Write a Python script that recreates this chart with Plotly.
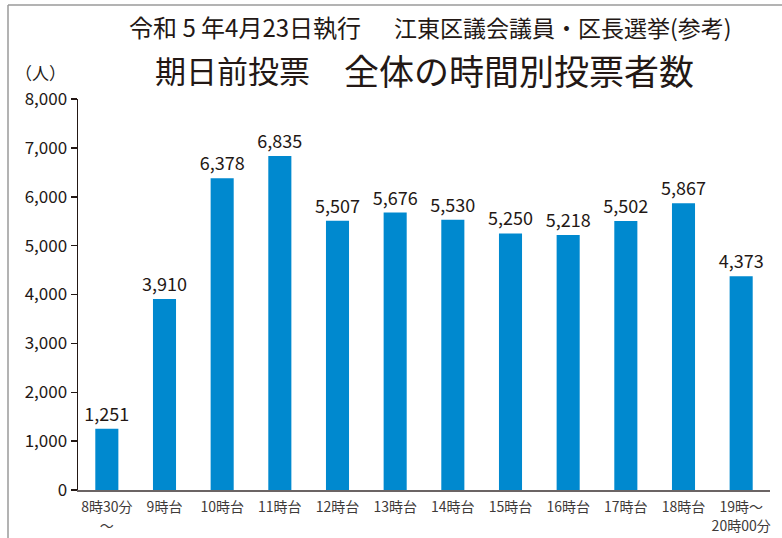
import plotly.graph_objects as go

categories = ["8時30分<br>～", "9時台", "10時台", "11時台", "12時台", "13時台",
              "14時台", "15時台", "16時台", "17時台", "18時台", "19時～<br>20時00分"]
values = [1251, 3910, 6378, 6835, 5507, 5676, 5530, 5250, 5218, 5502, 5867, 4373]
y_ticks = [0, 1000, 2000, 3000, 4000, 5000, 6000, 7000, 8000]
y_ticklabels = [f"{v:,}" for v in y_ticks]
title_line1a = "令和 5 年4月23日執行"
title_line1b = "江東区議会議員・区長選挙(参考)"
title_line2a = "期日前投票"
title_line2b = "全体の時間別投票者数"
unit_label = "（人）"

W, H = 782, 538
L, R, T, B = 78, 12, 99, 48
PW, PH = W - L - R, H - T - B
FONT = "Noto Sans CJK JP"
TXT = "#231815"


def px(x):
    return (x - L) / PW


def py(y):
    return (H - B - y) / PH


fig = go.Figure(go.Bar(
    x=categories, y=values,
    marker=dict(color="#0089CF", line=dict(width=0)),
    text=[f"{v:,}" for v in values], textposition="outside",
    textfont=dict(family=FONT, size=18, color=TXT),
    constraintext="none",
    cliponaxis=False, width=0.4,
))

fig.update_layout(
    width=W, height=H,
    margin=dict(l=L, r=R, t=T, b=B, autoexpand=False),
    paper_bgcolor="white", plot_bgcolor="white",
    showlegend=False,
    font=dict(family=FONT, color=TXT),
    xaxis=dict(showline=True, linecolor="#6b6464", linewidth=1.5, ticks="",
               tickfont=dict(family=FONT, size=14, color="#3e3a39"),
               ticklabelstandoff=4,
               showgrid=False, zeroline=False, automargin=False),
    yaxis=dict(range=[0, 8000], tickvals=y_ticks, ticktext=y_ticklabels,
               showline=True, linecolor="#231815", linewidth=1.5,
               ticks="outside", ticklen=6, tickcolor="#231815", tickwidth=1.5,
               tickfont=dict(family=FONT, size=17, color=TXT),
               showgrid=False, zeroline=False, automargin=False),
    annotations=[
        dict(text=title_line1a, x=px(245), y=py(27), xref="paper", yref="paper",
             xanchor="center", yanchor="middle", showarrow=False,
             font=dict(family=FONT, size=24, color=TXT)),
        dict(text=title_line1b, x=px(734), y=py(27), xref="paper", yref="paper",
             xanchor="right", yanchor="middle", showarrow=False,
             font=dict(family=FONT, size=23, color=TXT)),
        dict(text=title_line2a, x=px(153), y=py(70), xref="paper", yref="paper",
             xanchor="left", yanchor="middle", showarrow=False,
             font=dict(family=FONT, size=31, color=TXT)),
        dict(text=title_line2b, x=px(696), y=py(70), xref="paper", yref="paper",
             xanchor="right", yanchor="middle", showarrow=False,
             font=dict(family=FONT, size=35, color=TXT)),
        dict(text=unit_label, x=px(40), y=py(73), xref="paper", yref="paper",
             xanchor="center", yanchor="middle", showarrow=False,
             font=dict(family=FONT, size=17, color=TXT)),
    ],
    shapes=[
        dict(type="line", xref="paper", yref="paper", x0=px(8), x1=px(790),
             y0=py(5), y1=py(5), line=dict(color="#9a9a9a", width=1.5)),
        dict(type="line", xref="paper", yref="paper", x0=px(8), x1=px(8),
             y0=py(5), y1=py(545), line=dict(color="#9a9a9a", width=1.5)),
    ],
)

fig.write_html("out.html", config={"displayModeBar": False, "staticPlot": True},
               post_script="document.body.style.margin='0';document.body.style.overflow='hidden';")
